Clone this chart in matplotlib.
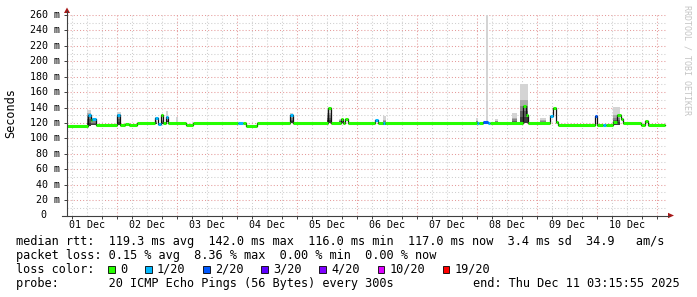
import numpy as np
import matplotlib.pyplot as plt
from matplotlib.lines import Line2D
from matplotlib.patches import Polygon, Rectangle

plt.rcParams["font.family"] = ["DejaVu Sans Mono"]

W, H = 697, 297

# time axis: hours after 01 Dec 00:00, graph covers 01 Dec 04:00 .. 11 Dec 04:00
t_min, t_max = 4.0, 244.0
data_end = 243.27

# median rtt (ms) as steps: start hour, value, loss class
seg_start = [4.0, 12.2, 13.6, 14.12, 15.48, 24.12, 25.32, 27.2, 28.8, 32.0,
             39.2, 40.4, 41.6, 42.28, 43.48, 44.28, 51.6, 54.4, 72.4, 74.4,
             75.48, 80.0, 93.2, 94.4, 108.28, 109.6, 113.6, 114.28, 115.2, 116.52,
             127.2, 128.52, 130.4, 131.2, 168.0, 168.8, 170.28, 172.4, 173.2, 186.28,
             187.4, 188.52, 197.2, 198.28, 199.4, 200.52, 215.2, 216.12, 218.28, 219.6,
             222.4, 224.12, 225.48, 226.28, 233.6, 235.2, 236.2]
seg_rtt = [116, 130, 124, 125, 117.5, 130.5, 117.5, 119, 117.5, 119.7,
           127, 119, 130.5, 119.5, 128, 119.7, 117, 119.7, 119.7, 119.7,
           116.6, 119.7, 130, 119.7, 140, 119.7, 125, 119.7, 125, 119.7,
           124, 119.7, 119.7, 119.7, 119.5, 119.5, 121.5, 120, 119.5, 142,
           130.5, 119.5, 129, 139, 121.6, 117.5, 128.5, 117, 117, 117,
           121.8, 130.5, 125, 119.5, 117, 122.7, 117]
seg_loss = [0, 1, 0, 1, 0, 1, 0, 0, 0, 0,
            1, 1, 0, 0, 1, 0, 0, 0, 1, 0,
            0, 0, 1, 0, 0, 0, 0, 0, 0, 0,
            1, 0, 1, 0, 1, 0, 2, 1, 0, 0,
            0, 0, 1, 0, 0, 0, 2, 0, 1, 0,
            0, 0, 0, 0, 0, 0, 0]

# smoke (spread of the 20 pings): low / dense part top / highest ping
smoke_start = [11.8, 13.6, 24.0, 39.2, 41.4, 43.4, 47.4, 93.2, 107.9, 112.9,
               130.3, 167.5, 171.5, 175.2, 181.9, 185.2, 193.2, 222.3]
smoke_end = [13.6, 15.6, 25.4, 40.0, 42.4, 44.4, 48.4, 94.4, 109.6, 114.5,
             131.6, 168.3, 172.3, 176.3, 183.9, 188.5, 195.6, 225.2]
smoke_low = [116, 117, 118, 119, 119, 121, 120, 120, 120, 120,
             117, 120, 120, 120, 120, 120, 119.5, 117.5]
smoke_mid = [133, 124, 131, 122, 124, 125, 121, 128, 133, 124,
             124, 123, 121, 123, 126, 150, 124, 130]
smoke_high = [137, 127, 134, 128, 131, 135, 128, 133.5, 139, 125,
              128.6, 127, 260, 125, 132.6, 171, 126, 141]

loss_labels = ["0", "1/20", "2/20", "3/20", "4/20", "10/20", "19/20"]
loss_colors = ["#26ff00", "#00b8ff", "#0059ff", "#5e00ff", "#7e00ff", "#dd00ff", "#ff0000"]

day_labels = ["01 Dec", "02 Dec", "03 Dec", "04 Dec", "05 Dec",
              "06 Dec", "07 Dec", "08 Dec", "09 Dec", "10 Dec"]
y_ticks = list(range(0, 261, 20))

legend_rtt = "median rtt:  119.3 ms avg  142.0 ms max  116.0 ms min  117.0 ms now  3.4 ms sd  34.9   am/s"
legend_loss = "packet loss: 0.15 % avg  8.36 % max  0.00 % min  0.00 % now"
legend_probe = "probe:       20 ICMP Echo Pings (56 Bytes) every 300s"
legend_end = "end: Thu Dec 11 03:15:55 2025"
watermark = "RRDTOOL / TOBI OETIKER"


def fx(x):
    return x / W


def fy(y):
    return 1 - y / H


fig = plt.figure(figsize=(W / 100, H / 100), dpi=100)
ax = fig.add_axes([fx(67), fy(215.5), 600 / W, 200.5 / H])
ax.set_xlim(t_min, t_max)
ax.set_ylim(0, 260)
for s in ax.spines.values():
    s.set_visible(False)

# grid
grid_kw = dict(lw=0.75, dashes=(1, 2), zorder=1)
for v in range(10, 261, 10):
    ax.axhline(v, color="#e59a9a" if v % 20 == 0 else "#cfcfcf", **grid_kw)
for t in range(6, 244, 6):
    ax.axvline(t, color="#e59a9a" if t % 24 == 0 else "#cfcfcf", **grid_kw)

# smoke
shades = ["#3c3c3c", "#606060", "#888888", "#ababab"]
for s, e, lo, mid, hi in zip(smoke_start, smoke_end, smoke_low, smoke_mid, smoke_high):
    ax.fill_between([s, e], mid, hi, color="#d4d4d4", lw=0, zorder=2)
    bands = np.linspace(lo, mid, len(shades) + 1)
    for k, c in enumerate(shades):
        ax.fill_between([s, e], bands[k], bands[k + 1], color=c, lw=0, zorder=2)

# median line
edges = seg_start + [data_end]
xs = np.repeat(edges, 2)[1:-1]
ys = np.repeat(seg_rtt, 2)
ax.plot(xs, ys, color="#111111", lw=0.9, zorder=3)
for s, e, v, l in zip(seg_start, edges[1:], seg_rtt, seg_loss):
    ax.plot([s, e], [v, v], color=loss_colors[l], lw=2.2,
            solid_capstyle="butt", zorder=4)

# ticks
ax.set_xticks([24 * d + 12 for d in range(10)], day_labels)
ax.set_xticks(range(6, 244, 6), minor=True)
ax.tick_params(axis="x", which="major", length=0, pad=3.5, labelsize=7.2)
ax.tick_params(axis="x", which="minor", length=2, width=0.7, color="#404040")
ax.set_yticks(y_ticks)
ax.set_yticklabels([])
ax.tick_params(axis="y", which="major", length=2.5, width=0.7, color="#404040")
for v in y_ticks:
    ax.text(-7 / 600 if v else -20.3 / 600, v, f"{v} m" if v else "0",
            transform=ax.get_yaxis_transform(), ha="right", va="center",
            fontsize=7.2)

# axes with arrows
fig.add_artist(Line2D([fx(67), fx(67)], [fy(216), fy(11)], color="#404040", lw=0.8))
fig.add_artist(Line2D([fx(62), fx(669)], [fy(215.5), fy(215.5)], color="#404040", lw=0.8))
fig.add_artist(Polygon([(fx(64), fy(13)), (fx(70), fy(13)), (fx(67), fy(7.5))],
                       closed=True, color="#a81818", lw=0))
fig.add_artist(Polygon([(fx(668), fy(212.8)), (fx(668), fy(218.2)), (fx(674), fy(215.5))],
                       closed=True, color="#a81818", lw=0))

# texts
fs = 8.55
fig.text(fx(11), fy(113), "Seconds", rotation=90, ha="center", va="center", fontsize=fs)
fig.text(fx(687.5), fy(5), watermark, rotation=270, ha="center", va="top",
         fontsize=6, color="#c4c4c4")
fig.text(fx(16), fy(241), legend_rtt, fontsize=fs, va="center")
fig.text(fx(16), fy(255.7), legend_loss, fontsize=fs, va="center")
fig.text(fx(16), fy(269.3), "loss color:", fontsize=fs, va="center")
x = 108.3
for lab, col in zip(loss_labels, loss_colors):
    fig.add_artist(Rectangle((fx(x), fy(272.7)), 6.7 / W, 6.7 / H, facecolor=col,
                             edgecolor="black", lw=0.6, transform=fig.transFigure))
    fig.text(fx(x + 11.7), fy(269.3), lab, fontsize=fs, va="center")
    x += 11.7 + 7.1 * len(lab) + 18
fig.text(fx(16), fy(283.3), legend_probe, fontsize=fs, va="center")
fig.text(fx(680), fy(283.3), legend_end, ha="right", fontsize=fs, va="center")

fig.savefig("out.png", dpi=100, facecolor="white")
